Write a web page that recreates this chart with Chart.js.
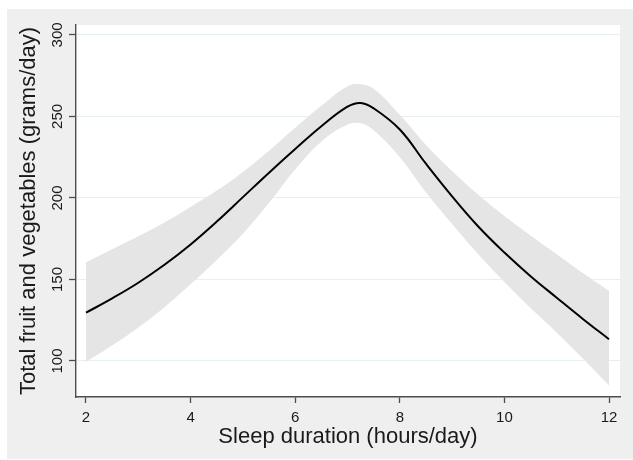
<!DOCTYPE html>
<html>
<head>
<meta charset="utf-8">
<script src="https://cdn.jsdelivr.net/npm/chart.js@4.4.1/dist/chart.umd.min.js"></script>
<style>
  html, body { margin: 0; padding: 0; background: #ffffff; }
  #wrap { position: absolute; left: 7px; top: 9px; width: 626px; height: 450px; background: #efefef; }
</style>
</head>
<body>
<div id="wrap"><canvas id="c"></canvas></div>
<script>
// Sleep duration (hours/day)
const sleepHours = [2, 2.5, 3, 3.5, 4, 4.5, 5, 5.5, 6, 6.5, 7, 7.25, 7.5, 8, 8.5, 9, 9.5, 10, 10.5, 11, 11.5, 12];
// Predicted total fruit and vegetables (grams/day)
const predicted = [129.6, 138.4, 148, 159, 171.5, 185.5, 200.5, 215.5, 230, 244, 256, 258.3, 255, 242, 221, 201, 182.5, 166.5, 152, 138.8, 125.8, 113.3];
// 95% CI upper bound
const ciUpper = [160.5, 168.5, 176.5, 185, 194.5, 204.5, 216, 229, 243, 256.5, 268.5, 269.8, 267, 251, 232.5, 216.5, 202, 189, 177, 165.5, 154, 143];
// 95% CI lower bound
const ciLower = [99.5, 109.5, 120.5, 133, 147, 162, 178, 197, 217.5, 234.5, 245, 245.8, 241.5, 225, 203.5, 184, 165.5, 148.5, 132.5, 117.5, 101.5, 85];

const xTicks = [2, 4, 6, 8, 10, 12];
const yTicks = [100, 150, 200, 250, 300];

const FONT = '"Liberation Sans", Arial, sans-serif';
const toXY = arr => arr.map((v, i) => ({ x: sleepHours[i], y: v }));

const plotBg = {
  id: 'plotBg',
  beforeDraw(chart) {
    const { ctx, chartArea: a } = chart;
    ctx.save();
    ctx.fillStyle = '#ffffff';
    ctx.fillRect(a.left, a.top, a.right - a.left, a.bottom - a.top);
    ctx.restore();
  }
};

new Chart(document.getElementById('c'), {
  type: 'line',
  data: {
    datasets: [
      {
        label: 'Predicted',
        data: toXY(predicted),
        borderColor: '#000000',
        borderWidth: 2,
        pointRadius: 0,
        fill: false,
        tension: 0.4
      },
      {
        label: 'Upper',
        data: toXY(ciUpper),
        borderWidth: 0,
        borderColor: 'rgba(0,0,0,0)',
        backgroundColor: '#e5e5e5',
        pointRadius: 0,
        fill: '+1',
        tension: 0.4
      },
      {
        label: 'Lower',
        data: toXY(ciLower),
        borderWidth: 0,
        borderColor: 'rgba(0,0,0,0)',
        backgroundColor: '#e5e5e5',
        pointRadius: 0,
        fill: false,
        tension: 0.4
      }
    ]
  },
  options: {
    responsive: true,
    maintainAspectRatio: false,
    animation: false,
    layout: { padding: { left: 0, top: 16, right: 13, bottom: 0 } },
    plugins: {
      legend: { display: false },
      tooltip: { enabled: false }
    },
    scales: {
      x: {
        type: 'linear',
        min: 1.809,
        max: 12.21,
        afterBuildTicks: s => { s.ticks = xTicks.map(v => ({ value: v })); },
        afterFit: s => { s.height = 62; },
        grid: { drawOnChartArea: false, drawTicks: true, tickLength: 6, tickColor: '#4d4d4d', tickWidth: 1.3 },
        border: { display: true, color: '#4d4d4d', width: 1.4 },
        ticks: { color: '#1a1a1a', font: { family: FONT, size: 15 }, padding: 6, maxRotation: 0, autoSkip: false, callback: v => String(v) },
        title: { display: true, text: 'Sleep duration (hours/day)', color: '#1a1a1a', font: { family: FONT, size: 22 }, padding: { top: 0, bottom: 9 } }
      },
      y: {
        type: 'linear',
        min: 77.9,
        max: 306.1,
        afterBuildTicks: s => { s.ticks = yTicks.map(v => ({ value: v })); },
        afterFit: s => { s.width = 69; },
        grid: { drawOnChartArea: true, color: '#e6f0f0', lineWidth: 1, drawTicks: true, tickLength: 7, tickColor: '#4d4d4d', tickWidth: 1.3 },
        border: { display: true, color: '#4d4d4d', width: 1.4 },
        ticks: { color: '#1a1a1a', font: { family: FONT, size: 15 }, padding: -1, minRotation: 90, maxRotation: 90, crossAlign: 'center', autoSkip: false, callback: v => String(v) },
        title: { display: true, text: 'Total fruit and vegetables (grams/day)', color: '#1a1a1a', font: { family: FONT, size: 22 }, padding: { top: 9, bottom: 0 } }
      }
    }
  },
  plugins: [plotBg]
});
</script>
</body>
</html>
